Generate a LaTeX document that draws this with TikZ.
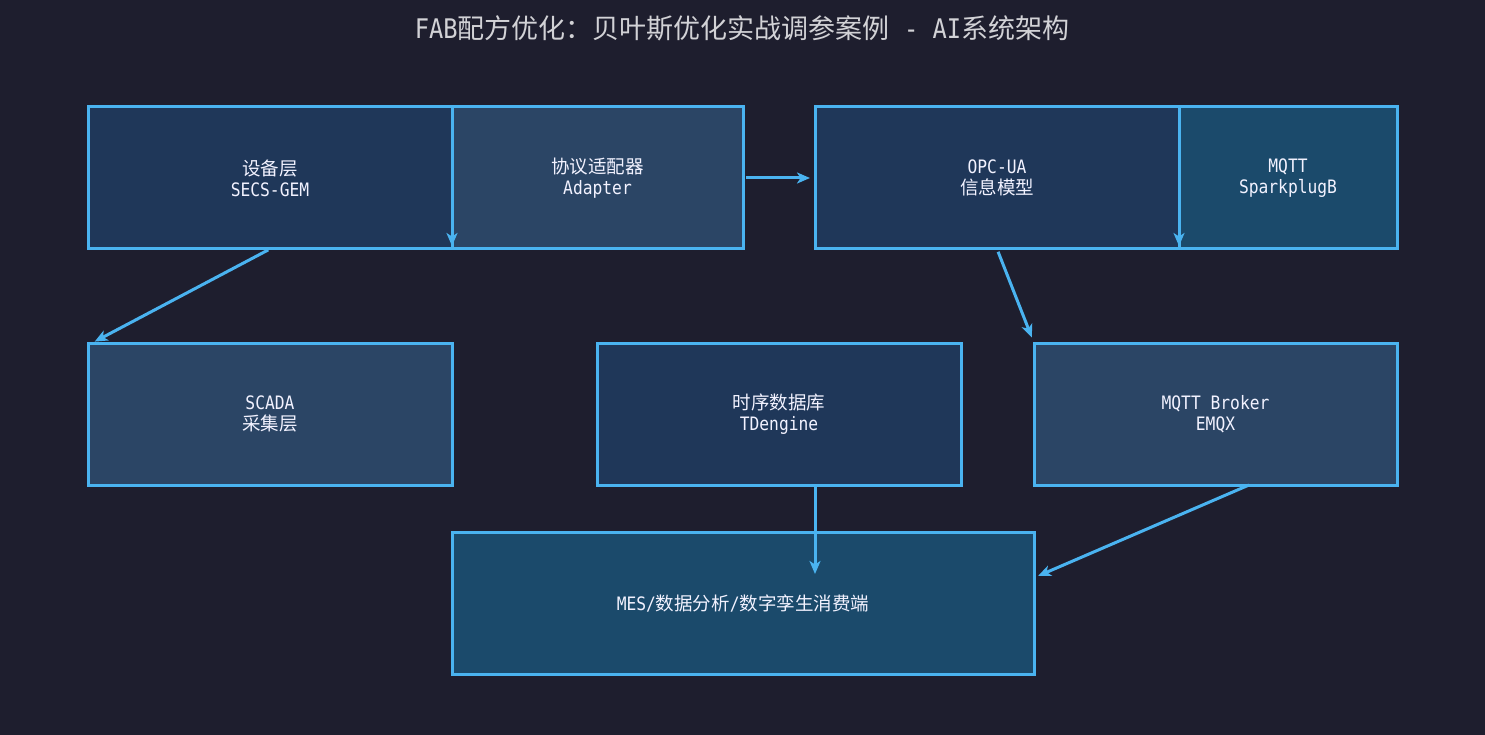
\documentclass[tikz,border=0pt]{standalone}
\usepackage{fontspec}
\setmainfont[FakeStretch=0.88]{DejaVu Sans Mono}
\newfontfamily\zh{Noto Sans CJK SC}
\usetikzlibrary{arrows.meta}

\definecolor{bgdark}{HTML}{1E1E2E}
\definecolor{navybox}{HTML}{1F3759}
\definecolor{slatebox}{HTML}{2B4565}
\definecolor{tealbox}{HTML}{1B4A6B}
\definecolor{edgeblue}{HTML}{4AB3F0}
\definecolor{titlegray}{HTML}{D2D2D6}

\tikzset{
  box/.style={draw=edgeblue, line width=3pt, inner sep=0pt, outer sep=0pt, align=center,
    text=white!95!blue, font=\fontsize{18.5}{21}\selectfont},
  wide/.style={minimum width=364pt, minimum height=142pt},
  link/.style={draw=edgeblue, line width=3pt,
    -{Stealth[length=13pt,width=11pt,inset=3.5pt]}}
}

\begin{document}
\begin{tikzpicture}[x=1pt,y=-1pt]
\fill[bgdark] (0,0) rectangle (1485,735);
\useasboundingbox (0,0) rectangle (1485,735);

% title
\node[text=titlegray, font=\fontsize{27}{30}\selectfont] (title) at (742,28)
  {FAB{\zh 配方优化：贝叶斯优化实战调参案例} - AI{\zh 系统架构}};

% top row
\node[box, wide, fill=navybox] (dev) at (270,178) {{\zh 设备层}\\SECS-GEM};
\node[box, fill=slatebox, minimum width=291pt, minimum height=142pt] (adp) at (597.5,178) {{\zh 协议适配器}\\Adapter};
\node[box, wide, fill=navybox] (opc) at (997,178) {OPC-UA\\{\zh 信息模型}};
\node[box, fill=tealbox, minimum width=218pt, minimum height=142pt] (spb) at (1288,178) {MQTT\\SparkplugB};

% middle row
\node[box, wide, fill=slatebox] (scada) at (270,414) {SCADA\\{\zh 采集层}};
\node[box, wide, fill=navybox] (tsdb) at (779,414) {{\zh 时序数据库}\\TDengine};
\node[box, fill=slatebox, minimum width=363pt, minimum height=142pt] (broker) at (1215.5,414) {MQTT Broker\\EMQX};

% bottom
\node[box, fill=tealbox, minimum width=582pt, minimum height=142pt] (mes) at (743,603) {MES/{\zh 数据分析}/{\zh 数字孪生消费端}};

% free ends
\coordinate (devdown) at (452,246);
\coordinate (opcdown) at (1179,246);
\coordinate (mesin) at (815,574);
\coordinate (mesright) at (1038,576);
\coordinate (brkout) at (1249,486);

% connectors
\draw[link] ([yshift=2pt]dev.east) -- (dev.east |- devdown);
\draw[link, shorten <=3pt, shorten >=5pt] (adp.east) -- (opc.west);
\draw[link] ([yshift=2pt]opc.east) -- (opc.east |- opcdown);
\draw[link, shorten <=2pt, shorten >=3pt] (dev.south) -- ([xshift=4pt]scada.north west);
\draw[link, shorten <=3pt, shorten >=6pt] (opc.south) -- (broker.north west);
\draw[link, shorten <=2pt] (tsdb.south -| mesin) -- (mesin);
\draw[link] (broker.south -| brkout) -- (mesright);
\end{tikzpicture}
\end{document}
